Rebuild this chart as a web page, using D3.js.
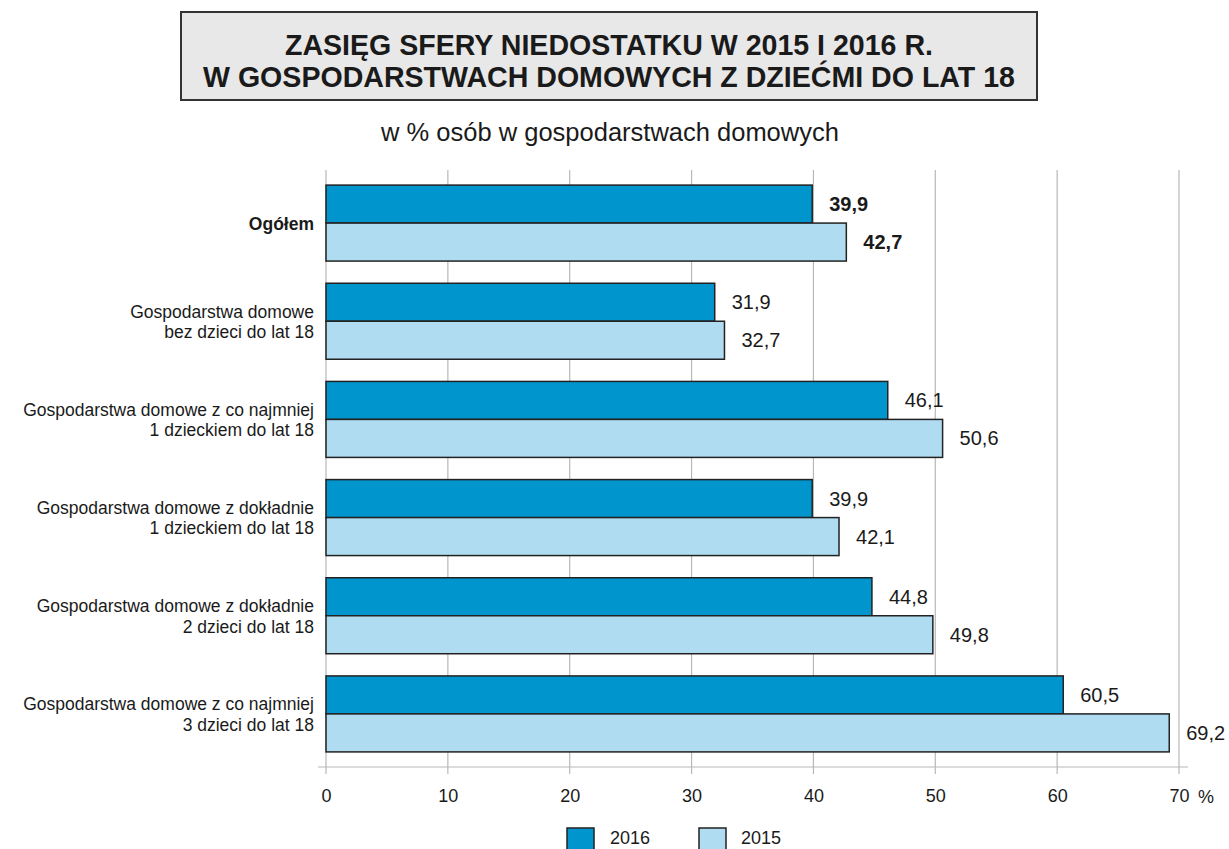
<!DOCTYPE html>
<html><head><meta charset="utf-8">
<script src="https://cdn.jsdelivr.net/npm/d3@7"></script>
<style>body{margin:0;background:#fff}svg{display:block}text{font-family:"Liberation Sans",Arial,sans-serif;fill:#1a1a1a}</style>
</head><body>
<script>
const categories = [
  ["Ogółem"],
  ["Gospodarstwa domowe", "bez dzieci do lat 18"],
  ["Gospodarstwa domowe z co najmniej", "1 dzieckiem do lat 18"],
  ["Gospodarstwa domowe z dokładnie", "1 dzieckiem do lat 18"],
  ["Gospodarstwa domowe z dokładnie", "2 dzieci do lat 18"],
  ["Gospodarstwa domowe z co najmniej", "3 dzieci do lat 18"]
];
const values2016 = [39.9, 31.9, 46.1, 39.9, 44.8, 60.5];
const values2015 = [42.7, 32.7, 50.6, 42.1, 49.8, 69.2];
const seriesNames = ["2016", "2015"];
const xTicks = [0, 10, 20, 30, 40, 50, 60, 70];
const titleLines = ["ZASIĘG SFERY NIEDOSTATKU W 2015 I 2016 R.", "W GOSPODARSTWACH DOMOWYCH Z DZIEĆMI DO LAT 18"];
const subtitle = "w % osób w gospodarstwach domowych";

const colors = ["#0095cc", "#b0dcf2"];
const W = 1229, H = 849;
const svg = d3.select("body").append("svg").attr("width", W).attr("height", H);

// title box
svg.append("rect").attr("x", 181).attr("y", 12).attr("width", 856).attr("height", 88)
  .attr("fill", "#e8e8e8").attr("stroke", "#333").attr("stroke-width", 2);
const titleLens = [648, 812];
titleLines.forEach((t, i) => {
  svg.append("text").attr("x", 609).attr("y", 55 + i * 32).attr("text-anchor", "middle")
    .attr("font-size", 30).attr("font-weight", "bold")
    .attr("textLength", titleLens[i]).attr("lengthAdjust", "spacingAndGlyphs")
    .style("font-family", "'Liberation Sans Narrow','Liberation Sans',Arial,sans-serif")
    .text(t);
});
svg.append("text").attr("x", 610).attr("y", 141).attr("text-anchor", "middle")
  .attr("font-size", 25.5).text(subtitle);

const x = d3.scaleLinear().domain([0, 70]).range([326, 1179]);
const y = d3.scaleBand().domain(d3.range(categories.length)).range([174, 763])
  .paddingInner(0.226).paddingOuter(0.113);
const ySub = d3.scaleBand().domain([0, 1]).range([0, y.bandwidth()]);

// grid lines
svg.append("g").selectAll("line").data(xTicks).join("line")
  .attr("x1", d => x(d)).attr("x2", d => x(d)).attr("y1", 170).attr("y2", 774)
  .attr("stroke", "#b8b8b8").attr("stroke-width", 1.2);
// axis
const axis = svg.append("g").attr("transform", "translate(0,767)")
  .call(d3.axisBottom(x).tickValues(xTicks).tickSize(0).tickPadding(22).tickFormat(d3.format("d")));
axis.select(".domain").remove();
axis.selectAll("text").attr("font-size", 18).style("font-family", "'Liberation Sans',Arial,sans-serif").attr("fill", "#1a1a1a");
svg.append("line").attr("x1", 318).attr("x2", 1188).attr("y1", 767).attr("y2", 767)
  .attr("stroke", "#b8b8b8").attr("stroke-width", 1.2);
svg.append("text").attr("x", 1198).attr("y", 803).attr("font-size", 18).text("%");

// bars
const data = categories.map((c, i) => ({ i, vals: [values2016[i], values2015[i]] }));
const groups = svg.append("g").selectAll("g").data(data).join("g")
  .attr("transform", d => `translate(0,${y(d.i)})`);
groups.selectAll("rect").data(d => d.vals.map((v, k) => ({ v, k }))).join("rect")
  .attr("x", x(0)).attr("y", d => ySub(d.k)).attr("width", d => x(d.v) - x(0))
  .attr("height", ySub.bandwidth()).attr("fill", d => colors[d.k])
  .attr("stroke", "#222").attr("stroke-width", 1.5);
groups.each(function (d) {
  const g = d3.select(this);
  d.vals.forEach((v, k) => {
    g.append("text").attr("x", x(v) + 17).attr("y", ySub(k) + ySub.bandwidth() / 2 + 7)
      .attr("font-size", 20).attr("font-weight", d.i === 0 ? "bold" : "normal")
      .text(d3.format(".1f")(v).replace(".", ","));
  });
});

// category labels
categories.forEach((lines, i) => {
  const cy = y(i) + y.bandwidth() / 2;
  const n = lines.length;
  lines.forEach((l, j) => {
    svg.append("text").attr("text-anchor", "end").attr("font-size", 17.5)
      .attr("font-weight", i === 0 ? "bold" : "normal")
      .attr("x", 314).attr("y", cy + 6.5 + (j - (n - 1) / 2) * 20.5).text(l);
  });
});

// legend
const leg = svg.append("g");
[[567, 610], [699, 741]].forEach((p, k) => {
  leg.append("rect").attr("x", p[0]).attr("y", 828).attr("width", 27).attr("height", 24)
    .attr("fill", colors[k]).attr("stroke", "#222").attr("stroke-width", 1.5);
  leg.append("text").attr("x", p[1]).attr("y", 844).attr("font-size", 18).text(seriesNames[k]);
});
</script>
</body></html>
